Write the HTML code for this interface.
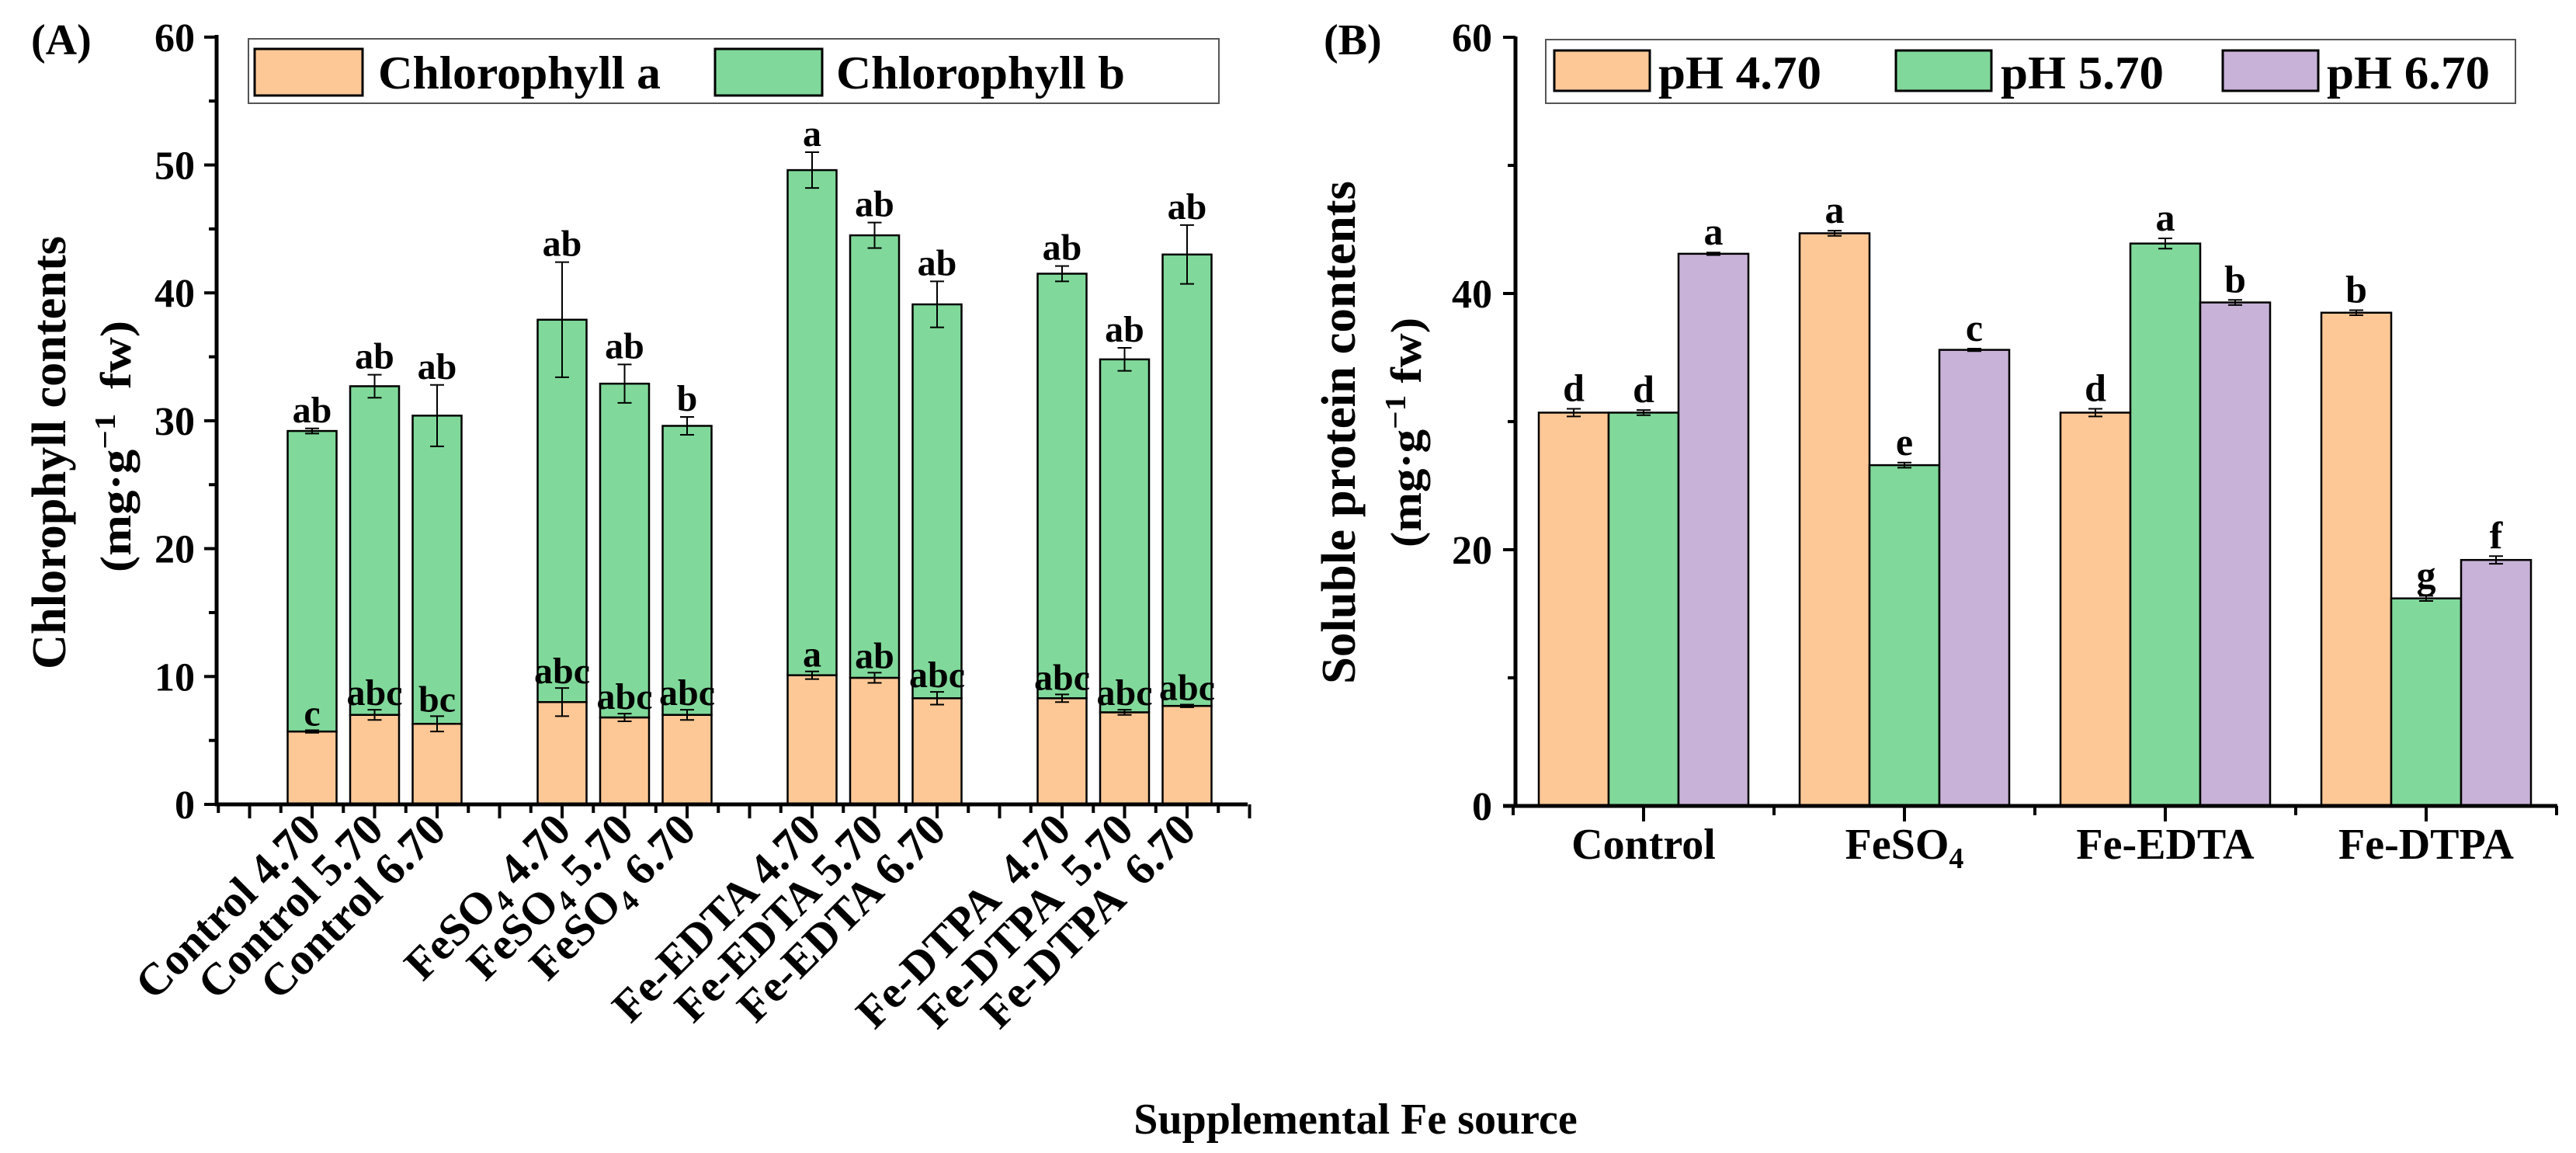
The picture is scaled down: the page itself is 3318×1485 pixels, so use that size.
<!DOCTYPE html>
<html><head><meta charset="utf-8"><style>
html,body{margin:0;padding:0;background:#fff;}
svg{display:block;font-family:"Liberation Serif",serif;font-weight:bold;}
</style></head><body>
<svg id="fig" width="3318" height="1485" viewBox="0 0 3318 1485" xmlns="http://www.w3.org/2000/svg">
<g id="pa"></g>
<g id="pb"></g>
<text x="1746" y="1460" font-size="56" text-anchor="middle">Supplemental Fe source</text>
</svg>
<script>
// Panel A data
const catsA = ["Control 4.70","Control 5.70","Control 6.70","FeSO4 4.70","FeSO4 5.70","FeSO4 6.70","Fe-EDTA 4.70","Fe-EDTA 5.70","Fe-EDTA 6.70","Fe-DTPA  4.70","Fe-DTPA  5.70","Fe-DTPA  6.70"];
const chlA = [5.7,7.0,6.3,8.0,6.8,7.0,10.1,9.9,8.3,8.3,7.2,7.7];
const chlAErr = [0.1,0.4,0.6,1.1,0.3,0.4,0.3,0.4,0.5,0.3,0.2,0.1];
const chlB = [23.5,25.7,24.1,29.9,26.1,22.6,39.5,34.6,30.8,33.2,27.6,35.3];
const totalErr = [0.2,0.9,2.4,4.5,1.5,0.7,1.4,1.0,1.8,0.6,0.9,2.3];
const lettersA = ["c","abc","bc","abc","abc","abc","a","ab","abc","abc","abc","abc"];
const lettersTotal = ["ab","ab","ab","ab","ab","b","a","ab","ab","ab","ab","ab"];
const ticksA = [0,10,20,30,40,50,60];
// Panel B data
const catsB = ["Control","FeSO4","Fe-EDTA","Fe-DTPA"];
const ph47 = [30.7,44.7,30.7,38.5];
const ph57 = [30.7,26.6,43.9,16.2];
const ph67 = [43.1,35.6,39.3,19.2];
const err47 = [0.3,0.2,0.3,0.2];
const err57 = [0.2,0.2,0.4,0.2];
const err67 = [0.1,0.1,0.2,0.3];
const let47 = ["d","a","d","b"];
const let57 = ["d","e","a","g"];
const let67 = ["a","c","b","f"];
const ticksB = [0,20,40,60];

const NS="http://www.w3.org/2000/svg";
const ORANGE="#FEC896", GREEN="#80D99A", PURPLE="#C8B2D8";
function mk(tag, parent, attrs){const e=document.createElementNS(NS,tag);for(const k in attrs)e.setAttribute(k,attrs[k]);parent.appendChild(e);return e;}

// ---------- Panel A ----------
const pa=document.getElementById('pa');
const yA=v=>1036-v*16.47;
const xA=s=>321.5+s*80.5;
const bwA=63;
const axA=279;
for(let v=0;v<=60;v+=5){
  const t=mk('line',pa,{x1:axA-(v%10===0?16:10),x2:axA,y1:yA(v),y2:yA(v),stroke:'#000','stroke-width':4});
  
  
}
ticksA.forEach(v=>{
  const t=mk('text',pa,{x:axA-28,y:yA(v)+18,'font-size':52,'text-anchor':'end'});
  t.textContent=v;
  
  
});
for(let k=0;k<=33;k++){
  const s=k/2-0.5;
  const major=(k%2===1);
  const t=mk('line',pa,{x1:xA(s),x2:xA(s),y1:1036,y2:1036+(major?18:11),stroke:'#000','stroke-width':4});
  
  
}
catsA.forEach((c,i)=>{
  const g=Math.floor(i/3), j=i%3, s=1+g*4+j, cx=xA(s);
  const ra=mk('rect',pa,{x:cx-bwA/2,y:yA(chlA[i]),width:bwA,height:yA(0)-yA(chlA[i]),fill:ORANGE,stroke:'#000','stroke-width':2.5});
  
  
  const tot=chlA[i]+chlB[i];
  const rb=mk('rect',pa,{x:cx-bwA/2,y:yA(tot),width:bwA,height:yA(chlA[i])-yA(tot),fill:GREEN,stroke:'#000','stroke-width':2.5});
  
  
  [[chlA[i],chlAErr[i]],[tot,totalErr[i]]].forEach(([v,e])=>{
    const eg=mk('path',pa,{d:`M${cx},${yA(v+e)}V${yA(v-e)}M${cx-9},${yA(v+e)}H${cx+9}M${cx-9},${yA(v-e)}H${cx+9}`,stroke:'#000','stroke-width':2,fill:'none'});
    
    
  });
  const la=mk('text',pa,{x:cx,y:yA(chlA[i]+chlAErr[i])-6,'font-size':48,'text-anchor':'middle'});
  la.textContent=lettersA[i];
  
  
  const lb=mk('text',pa,{x:cx,y:yA(tot+totalErr[i])-8,'font-size':48,'text-anchor':'middle'});
  lb.textContent=lettersTotal[i];
  
  
  const lx=cx+14, ly=1072;
  const tl=mk('text',pa,{x:lx,y:ly,'font-size':58,'text-anchor':'end',transform:`rotate(-45 ${lx} ${ly})`});
  if(c.startsWith("FeSO4")){
    tl.appendChild(document.createTextNode("FeSO"));
    const sub=mk('tspan',tl,{'font-size':38,dy:12});sub.textContent="4";
    const rest=mk('tspan',tl,{dy:-12});rest.textContent=c.slice(5);
  } else { tl.textContent=c; tl.style.whiteSpace='pre'; }
  
  
});
mk('line',pa,{x1:axA,x2:axA,y1:45,y2:1038,stroke:'#000','stroke-width':5});
mk('line',pa,{x1:axA-2,x2:1607,y1:1036,y2:1036,stroke:'#000','stroke-width':5});
(()=>{
const t=mk('text',pa,{x:40,y:70,'font-size':56});t.textContent="(A)";

const y1=mk('text',pa,{x:0,y:0,'font-size':62,'text-anchor':'middle',transform:'translate(84 583) rotate(-90)',textLength:558,lengthAdjust:'spacingAndGlyphs'});
y1.textContent="Chlorophyll contents";

const y2=mk('text',pa,{x:0,y:0,'font-size':56,'text-anchor':'middle',transform:'translate(168 575) rotate(-90)',textLength:324,lengthAdjust:'spacingAndGlyphs'});
y2.textContent="(mg·g";const sp=mk('tspan',y2,{dy:-20,'font-size':38});sp.textContent="−1";const sp2=mk('tspan',y2,{dy:20});sp2.textContent="  fw)";
y2.style.whiteSpace='pre';

const lg=mk('g',pa,{});
mk('rect',lg,{x:320,y:50,width:1250,height:83,fill:'#fff',stroke:'#555','stroke-width':2});
const s1=mk('rect',lg,{x:328,y:63,width:139,height:60,fill:ORANGE,stroke:'#000','stroke-width':3});

const t1=mk('text',lg,{x:487,y:114,'font-size':60,textLength:364,lengthAdjust:'spacingAndGlyphs'});t1.textContent="Chlorophyll a";

const s2=mk('rect',lg,{x:921,y:63,width:138,height:60,fill:GREEN,stroke:'#000','stroke-width':3});

const t2=mk('text',lg,{x:1077,y:114,'font-size':60,textLength:372,lengthAdjust:'spacingAndGlyphs'});t2.textContent="Chlorophyll b";

})();

// ---------- Panel B ----------
const pb=document.getElementById('pb');
const yB=v=>1038-v*16.5;
const axB=1952;
const xB=c=>2117+c*336;
const bwB=90;
for(let v=0;v<=60;v+=10){
  const t=mk('line',pb,{x1:axB-(v%20===0?16:10),x2:axB,y1:yB(v),y2:yB(v),stroke:'#000','stroke-width':4});
  
  
}
ticksB.forEach(v=>{
  const t=mk('text',pb,{x:axB-30,y:yB(v)+18,'font-size':52,'text-anchor':'end'});
  t.textContent=v;
  
  
});
for(let k=0;k<=8;k++){
  const s=k/2-0.5, major=(k%2===1);
  const t=mk('line',pb,{x1:xB(s),x2:xB(s),y1:1038,y2:1038+(major?20:12),stroke:'#000','stroke-width':4});
  
  
}
const seriesB=[[ph47,err47,let47,ORANGE,'ph-4-70'],[ph57,err57,let57,GREEN,'ph-5-70'],[ph67,err67,let67,PURPLE,'ph-6-70']];
catsB.forEach((c,i)=>{
  seriesB.forEach(([vals,errs,lets,col,nm],j)=>{
    const cx=xB(i)+(j-1)*bwB, v=vals[i], e=errs[i];
    const r=mk('rect',pb,{x:cx-bwB/2,y:yB(v),width:bwB,height:yB(0)-yB(v),fill:col,stroke:'#000','stroke-width':2.5});
    
    
    const eg=mk('path',pb,{d:`M${cx},${yB(v+e)}V${yB(v-e)}M${cx-9},${yB(v+e)}H${cx+9}M${cx-9},${yB(v-e)}H${cx+9}`,stroke:'#000','stroke-width':2,fill:'none'});
    
    
    const l=mk('text',pb,{x:cx,y:yB(v+e)-10,'font-size':50,'text-anchor':'middle'});
    l.textContent=lets[i];
    
    
  });
  const tl=mk('text',pb,{x:xB(i),y:1106,'font-size':56,'text-anchor':'middle'});
  if(c==="FeSO4"){tl.appendChild(document.createTextNode("FeSO"));const sub=mk('tspan',tl,{'font-size':38,dy:12});sub.textContent="4";}
  else tl.textContent=c;
  
  
});
mk('line',pb,{x1:axB,x2:axB,y1:47,y2:1040,stroke:'#000','stroke-width':5});
mk('line',pb,{x1:axB-16,x2:3294,y1:1038,y2:1038,stroke:'#000','stroke-width':5});
(()=>{
const t=mk('text',pb,{x:1705,y:70,'font-size':56});t.textContent="(B)";

const y1=mk('text',pb,{x:0,y:0,'font-size':62,'text-anchor':'middle',transform:'translate(1745 557) rotate(-90)',textLength:648,lengthAdjust:'spacingAndGlyphs'});
y1.textContent="Soluble protein contents";

const y2=mk('text',pb,{x:0,y:0,'font-size':56,'text-anchor':'middle',transform:'translate(1830 557) rotate(-90)',textLength:296,lengthAdjust:'spacingAndGlyphs'});
y2.textContent="(mg·g";const sp=mk('tspan',y2,{dy:-20,'font-size':38});sp.textContent="−1";const sp2=mk('tspan',y2,{dy:20});sp2.textContent=" fw)";
y2.style.whiteSpace='pre';

const lg=mk('g',pb,{});
mk('rect',lg,{x:1991,y:51,width:1249,height:82,fill:'#fff',stroke:'#555','stroke-width':2});
[[2002,2136,ORANGE,'pH 4.70'],[2442,2577,GREEN,'pH 5.70'],[2863,2997,PURPLE,'pH 6.70']].forEach(([sx,tx,col,lab])=>{
  const s=mk('rect',lg,{x:sx,y:65,width:123,height:52,fill:col,stroke:'#000','stroke-width':3});
  
  const tt=mk('text',lg,{x:tx,y:114,'font-size':60,textLength:210,lengthAdjust:'spacingAndGlyphs'});tt.textContent=lab;
  
});
})();
</script>
</body></html>
